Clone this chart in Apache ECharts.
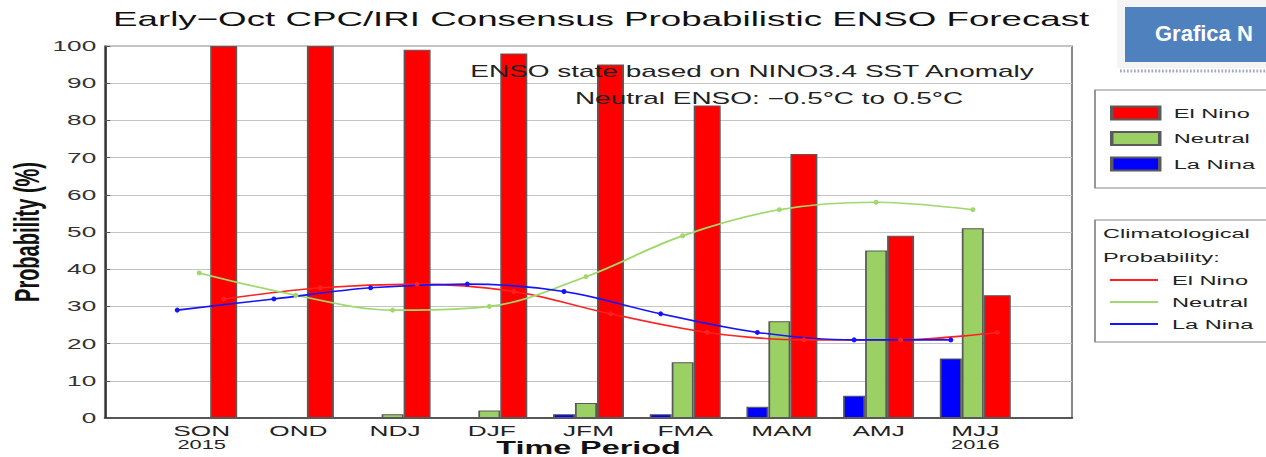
<!DOCTYPE html>
<html><head><meta charset="utf-8">
<script src="https://cdn.jsdelivr.net/npm/echarts@6/dist/echarts.min.js"></script>
<style>
html,body{margin:0;padding:0;background:#fff;overflow:hidden;width:1266px;height:457px;}
#chart{height:457px;transform-origin:0 0;}
</style></head><body><div id="chart"></div>
<script>
// ---- data ----
const periods = ['SON','OND','NDJ','DJF','JFM','FMA','MAM','AMJ','MJJ'];
const years = ['2015','','','','','','','','2016'];
const elNino = [100,100,99,98,95,84,71,49,33];
const neutral = [0,0,1,2,4,15,26,45,51];
const laNina = [0,0,0,0,1,1,3,6,16];
const climElNino = [32,35,36,34,28,23,21,21,23];
const climNeutral = [39,33,29,30,38,49,56,58,56];
const climLaNina = [29,32,35,36,34,28,23,21,21];
const yTicks = [0,10,20,30,40,50,60,70,80,90,100];

// ---- layout (the whole picture is horizontally stretched like the reference) ----
const W = 724, SX = 1266 / W;
const el = document.getElementById('chart');
el.style.width = W + 'px';
el.style.transform = 'scaleX(' + SX + ')';
const u = px => px / SX;
const FONT = 'Liberation Sans, Arial, Helvetica, sans-serif';
const gridLeft = u(105), gridRight = W - u(1072), gridTop = 46, gridBottom = 39;
const band = (W - gridLeft - gridRight) / 10;
const BW = { nina: u(22), neutral: u(22), nino: u(27) };
const totalBW = BW.nina + BW.neutral + BW.nino;
const off = {
  nina: -totalBW / 2 + BW.nina / 2,
  neutral: -totalBW / 2 + BW.nina + BW.neutral / 2,
  nino: totalBW / 2 - BW.nino / 2
};
const cats = [' '].concat(periods, ['  ']);
const barData = arr => arr.map((v, i) => [i + 1, v]);
const lineData = (arr, o) => arr.map((v, i) => [i + 1 + o / band, v]);

const RED = '#ff0000', GREEN = '#9bd164', BLUE = '#0000ff';
const barStyle = c => ({ color: c, borderColor: '#5a5a5a', borderWidth: 1 });

const chart = echarts.init(el, null, { renderer: 'svg' });
chart.setOption({
  backgroundColor: '#ffffff',
  animation: false,
  title: {
    text: 'Early\u2212Oct CPC/IRI Consensus Probabilistic ENSO Forecast',
    left: u(113), top: 8, padding: 0,
    textStyle: { fontFamily: FONT, fontSize: 21, fontWeight: 'normal', color: '#111' }
  },
  grid: {
    left: gridLeft, right: gridRight, top: gridTop, bottom: gridBottom,
    containLabel: false, outerBoundsMode: 'none',
    show: true, borderColor: '#8a8a8a', borderWidth: 1.2, backgroundColor: '#fff'
  },
  legend: [{
    orient: 'vertical', left: u(1095), top: 90,
    data: ['El Nino', 'Neutral', 'La Nina'],
    icon: 'rect', itemWidth: u(48), itemHeight: 13, itemGap: 9.5,
    padding: [15, 8, 16, u(15)],
    borderColor: '#888', borderWidth: 1, backgroundColor: '#fff',
    textStyle: { fontFamily: FONT, fontSize: 13.5, color: '#222', lineHeight: 16, padding: [0, 0, 0, 3] }
  }, {
    orient: 'vertical', left: u(1095), top: 220,
    data: ['Clim El Nino', 'Clim Neutral', 'Clim La Nina'],
    icon: 'rect', itemWidth: u(48), itemHeight: 2, itemGap: 6,
    padding: [52, 8, 10, u(15)],
    borderColor: '#888', borderWidth: 1, backgroundColor: '#fff',
    formatter: n => n.replace('Clim ', ''),
    textStyle: { fontFamily: FONT, fontSize: 13.5, color: '#222', lineHeight: 16, padding: [0, 0, 0, 3] }
  }],
  xAxis: [{
    type: 'category', data: cats, boundaryGap: false,
    axisLine: { lineStyle: { color: '#333', width: 1.5 } },
    axisTick: { show: false },
    splitLine: { show: false },
    axisLabel: {
      interval: 0, margin: 7,
      formatter: (v, i) => {
        const t = v.trim();
        if (!t) return '';
        const y = years[i - 1];
        return y ? '{c|' + t + '}\n{y|' + y + '}' : '{c|' + t + '}';
      },
      rich: {
        c: { fontFamily: FONT, fontSize: 15, color: '#222', lineHeight: 13 },
        y: { fontFamily: FONT, fontSize: 12.5, color: '#222', lineHeight: 14 }
      }
    },
    name: 'Time Period', nameLocation: 'middle', nameGap: 23, nameMoveOverlap: false,
    nameTextStyle: { fontFamily: FONT, fontSize: 18.5, lineHeight: 14, fontWeight: 'bold', color: '#111', verticalAlign: 'top' }
  }, {
    type: 'value', min: 0, max: 10, show: false
  }],
  yAxis: {
    type: 'value', min: yTicks[0], max: yTicks[yTicks.length - 1], interval: 10,
    axisLine: { show: true, lineStyle: { color: '#333', width: 1.2 } },
    axisTick: { show: true, inside: true, length: 3, lineStyle: { color: '#555' } },
    splitLine: { lineStyle: { color: '#c4c4c4', width: 1 } },
    axisLabel: { fontFamily: FONT, fontSize: 15, color: '#333', margin: 5 },
    name: 'Probability (%)', nameLocation: 'middle', nameGap: 35, nameMoveOverlap: false,
    nameTextStyle: { fontFamily: FONT, fontSize: 20, fontWeight: 'bold', color: '#111' }
  },
  series: [
    { name: 'La Nina', type: 'bar', data: barData(laNina), barWidth: BW.nina, barGap: 0, itemStyle: barStyle(BLUE), z: 2 },
    { name: 'Neutral', type: 'bar', data: barData(neutral), barWidth: BW.neutral, barGap: 0, itemStyle: barStyle(GREEN), z: 2 },
    { name: 'El Nino', type: 'bar', data: barData(elNino), barWidth: BW.nino, barGap: 0, itemStyle: barStyle(RED), z: 2 },
    { name: 'Clim El Nino', type: 'line', xAxisIndex: 1, data: lineData(climElNino, off.nino), smooth: 0.35,
      symbol: 'circle', symbolSize: [u(5), 5], lineStyle: { color: '#ff2020', width: 1.6 }, itemStyle: { color: '#ff2020' }, z: 4 },
    { name: 'Clim Neutral', type: 'line', xAxisIndex: 1, data: lineData(climNeutral, off.neutral), smooth: 0.35,
      symbol: 'circle', symbolSize: [u(5), 5], lineStyle: { color: '#9fd86c', width: 1.6 }, itemStyle: { color: '#9fd86c' }, z: 4 },
    { name: 'Clim La Nina', type: 'line', xAxisIndex: 1, data: lineData(climLaNina, off.nina), smooth: 0.35,
      symbol: 'circle', symbolSize: [u(5), 5], lineStyle: { color: '#1414ff', width: 1.6 }, itemStyle: { color: '#1414ff' }, z: 4 }
  ],
  graphic: [
    { type: 'text', x: u(752), y: 71, z: 10,
      style: { text: 'ENSO state based on NINO3.4 SST Anomaly', font: '16px ' + FONT, fill: '#222', align: 'center', verticalAlign: 'middle' } },
    { type: 'text', x: u(769), y: 98, z: 10,
      style: { text: 'Neutral ENSO: \u22120.5\u00B0C to 0.5\u00B0C', font: '16px ' + FONT, fill: '#222', align: 'center', verticalAlign: 'middle' } },
    { type: 'text', x: u(1103), y: 221, z: 10,
      style: { text: 'Climatological\nProbability:', font: '13.5px ' + FONT, fill: '#222', lineHeight: 24, verticalAlign: 'top' } },
    { type: 'rect', z: 9, shape: { x: u(1117), y: 0, width: W - u(1117), height: 68 }, style: { fill: '#f4f4f4' } },
    { type: 'rect', z: 10, shape: { x: u(1125), y: 7, width: W - u(1125), height: 55 }, style: { fill: '#5081bf' } },
    { type: 'text', x: u(1155), y: 34, z: 11, scaleX: 1 / SX,
      style: { text: 'Grafica N', font: 'bold 22px ' + FONT, fill: '#ffffff', verticalAlign: 'middle' } },
    { type: 'line', z: 10, shape: { x1: u(1120), y1: 71, x2: W, y2: 71 }, style: { stroke: '#a3aabb', lineWidth: 3, lineDash: [1, 1] } }
  ]
});
</script></body></html>
